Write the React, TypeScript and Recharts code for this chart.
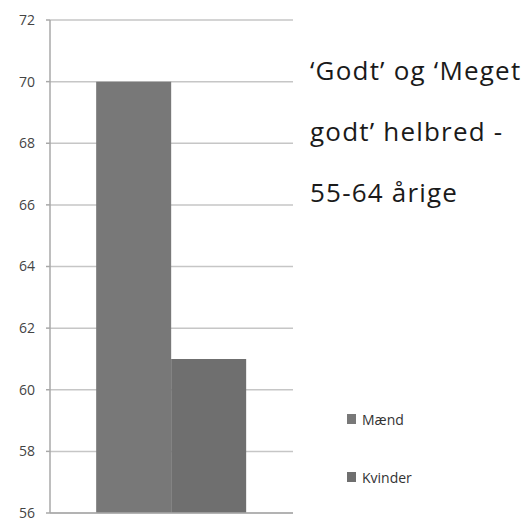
import { Bar, BarChart, CartesianGrid, Legend, XAxis, YAxis } from "recharts";

const CATEGORIES = [""];
const MAEND = [70];
const KVINDER = [61];
const Y_TICKS = [56, 58, 60, 62, 64, 66, 68, 70, 72];
const SERIES_ORDER = ["Mænd", "Kvinder"];
const TITLE_LINES = ["‘Godt’ og ‘Meget", "godt’ helbred -", "55-64 årige"];

const data = CATEGORIES.map((c, i) => ({ name: c, maend: MAEND[i], kvinder: KVINDER[i] }));

const FONT = "'Open Sans', 'Liberation Sans', sans-serif";

function renderLegend(props: any) {
  const items = [...(props.payload ?? [])].sort(
    (a: any, b: any) => SERIES_ORDER.indexOf(a.value) - SERIES_ORDER.indexOf(b.value)
  );
  return (
    <div style={{ fontFamily: FONT, fontSize: 14, color: "#333", width: 120 }}>
      {items.map((it: any, i: number) => (
        <div
          key={it.value}
          style={{ display: "flex", alignItems: "center", height: 20, marginTop: i === 0 ? 0 : 38 }}
        >
          <span style={{ width: 9, height: 10, background: it.color, marginRight: 6 }} />
          <span>{it.value}</span>
        </div>
      ))}
    </div>
  );
}

export default function App() {
  return (
    <div style={{ position: "absolute", left: 0, top: 0, width: 527, height: 519, background: "#fff" }}>
      <BarChart
        width={527}
        height={519}
        data={data}
        margin={{ top: 20, right: 234, bottom: 0, left: 0 }}
        barCategoryGap="19%"
        barGap={0}
      >
        <CartesianGrid vertical={false} stroke="#c6c6c6" strokeWidth={1.5} />
        <XAxis dataKey="name" height={6} tick={false} tickLine={false} stroke="#a8a8a8" strokeWidth={1.5} />
        <YAxis
          domain={[56, 72]}
          ticks={Y_TICKS}
          interval={0}
          width={50}
          tickSize={4}
          tickMargin={11}
          stroke="#a8a8a8"
          strokeWidth={1.5}
          tick={{ fill: "#444", fontSize: 14, fontFamily: FONT }}
          allowDataOverflow
        />
        <Bar dataKey="maend" name="Mænd" fill="#787878" isAnimationActive={false} />
        <Bar dataKey="kvinder" name="Kvinder" fill="#6f6f6f" isAnimationActive={false} />
        <Legend
          layout="vertical"
          content={renderLegend}
          wrapperStyle={{ left: 347, top: 409, width: 0, height: 0, overflow: "visible" }}
        />
      </BarChart>
      <svg
        width={527}
        height={519}
        style={{ position: "absolute", left: 0, top: 0, pointerEvents: "none" }}
      >
        {TITLE_LINES.map((line, i) => (
          <text
            key={line}
            x={310}
            y={80 + i * 61}
            fontFamily={FONT}
            fontSize={26}
            letterSpacing={1.2}
            fill="#1a1a1a"
          >
            {line}
          </text>
        ))}
      </svg>
    </div>
  );
}
